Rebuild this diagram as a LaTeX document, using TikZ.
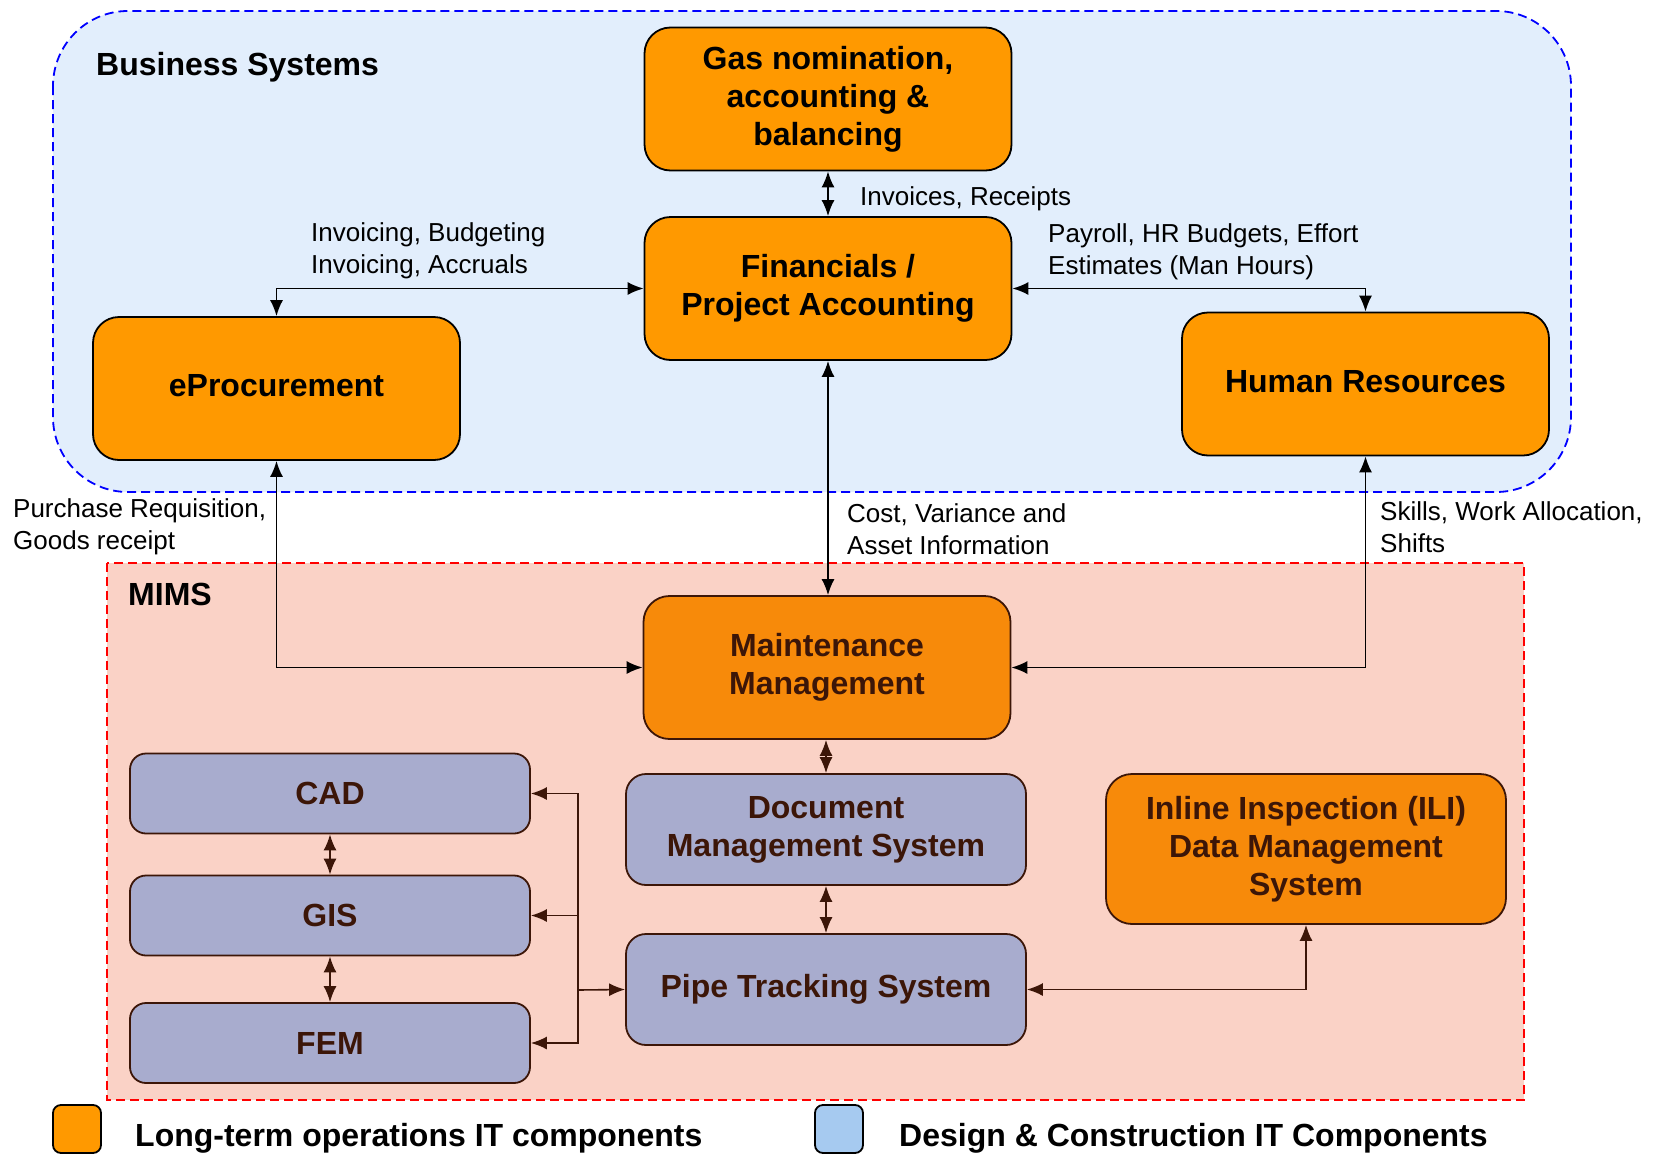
\documentclass[tikz,border=0pt]{standalone}
\usepackage{fontspec}
\setmainfont{Liberation Sans}
\usetikzlibrary{arrows.meta,positioning,calc}
\definecolor{bizOrange} {RGB}{255,153,  0}
\definecolor{mimsOrange}{RGB}{247,138, 10}
\definecolor{mimsBlue}  {RGB}{168,172,206}
\definecolor{dcBlue}    {RGB}{166,202,240}
\definecolor{bizBack}   {RGB}{226,238,252}
\definecolor{mimsBack}  {RGB}{250,210,198}
\definecolor{mimsInk}   {RGB}{ 60, 22,  8}

\begin{document}
\begin{tikzpicture}[x=1pt,y=-1pt,
        >={Latex[length=16pt,width=13pt]},
        box/.style={draw,line width=1.8pt,rounded corners=26pt,
                    fill=bizOrange,align=center,inner sep=0pt,
                    font=\fontsize{32}{38}\selectfont\bfseries,
                    minimum width=367pt,minimum height=143pt},
        mbox/.style={box,draw=mimsInk,text=mimsInk,fill=mimsOrange},
        dbox/.style={mbox,fill=mimsBlue,minimum width=400pt,
                     minimum height=111pt,rounded corners=20pt},
        sbox/.style={dbox,minimum height=80pt,rounded corners=16pt},
        lbl/.style={font=\fontsize{26}{32}\selectfont,align=left,
                    inner sep=0pt,anchor=west},
        head/.style={font=\fontsize{32}{38}\selectfont\bfseries,
                     inner sep=0pt,anchor=west},
        key/.style={draw,line width=1.8pt,rounded corners=8pt,
                    minimum size=48pt,inner sep=0pt},
        arr/.style={line width=1.6pt},
        marr/.style={line width=1.6pt,draw=mimsInk,
                     >={Latex[length=16pt,width=13pt,fill=mimsInk]}}]
        \useasboundingbox (0,0) rectangle (1655,1154);
        \draw[blue,dashed,dash pattern=on 9pt off 5pt,line width=1.8pt,
              fill=bizBack,rounded corners=75pt] (53,11) rectangle (1571,492);
        \draw[red,dashed,dash pattern=on 9pt off 5pt,line width=1.8pt,
              fill=mimsBack] (107,563) rectangle (1524,1100);
        \node[head] (bizhead) at (96,67) {Business Systems};
        \node[head] (mimshead) at (128,594) {MIMS};
        \node[box] (gas) at (828,99)
          {Gas nomination,\\accounting \&\\balancing};
        \node[box] (fin) at (828,288.5)
          {Financials /\\Project Accounting};
        \node[box] (eproc) at (276.5,388.5)
          {\raisebox{6pt}{eProcurement}};
        \node[box] (hr) at (1365.5,384)
          {\raisebox{6pt}{Human Resources}};
        \node[mbox] (maint) at (827,667.5)
          {Maintenance\\Management};
        \node[dbox] (doc) at (826,829.5)
          {Document\\Management System};
        \node[dbox] (pipe) at (826,989.5) {Pipe Tracking System};
        \node[sbox] (cad) at (330,793.5) {CAD};
        \node[sbox] (gis) at (330,915.5) {GIS};
        \node[sbox] (fem) at (330,1043) {FEM};
        \node[mbox,minimum width=400pt,minimum height=150pt] (ili)
          at (1306,849) {Inline Inspection (ILI)\\Data Management\\System};
        \node[lbl] (invrec) at (860,199) {Invoices, Receipts};
        \node[lbl] (invbud) at (311,250.5)
          {Invoicing, Budgeting\\Invoicing, Accruals};
        \node[lbl] (payroll) at (1048,251.5)
          {Payroll, HR Budgets, Effort\\Estimates (Man Hours)};
        \node[lbl] (purch) at (13,527)
          {Purchase Requisition,\\Goods receipt};
        \node[lbl] (cost) at (847,529)
          {Cost, Variance and\\Asset Information};
        \node[lbl] (skills) at (1380,527)
          {Skills, Work Allocation,\\Shifts};
        \coordinate (bus) at (578,990);
        \draw[arr,<->] (gas.south -| fin.north) -- (fin.north);
        \draw[arr,<->] (eproc.north) |- (fin.west);
        \draw[arr,<->] (fin.east) -| (hr.north);
        \draw[arr,<->] (fin.south) -- (fin.south |- maint.north);
        \draw[arr,<->] (eproc.south) |- (maint.west);
        \draw[arr,<->] (hr.south) |- (maint.east);
        \draw[marr,<->] (maint.south -| doc.north) -- (doc.north);
        \draw[marr,<->] (doc.south) -- (pipe.north);
        \draw[marr,<->] (cad.south) -- (gis.north);
        \draw[marr,<->] (gis.south) -- (fem.north);
        \draw[marr,->] (bus) -- (pipe.west);
        \draw[marr,->] (bus) |- (cad.east);
        \draw[marr,->] (bus) |- (gis.east);
        \draw[marr,->] (bus) |- (fem.east);
        \draw[marr,<->] (pipe.east) -| (ili.south);
        \node[key,fill=bizOrange] (keyops) at (77,1129) {};
        \node[key,fill=dcBlue] (keydc) at (839,1129) {};
        \node[head] (keyopstxt) at (135,1138)
          {Long-term operations IT components};
        \node[head] (keydctxt) at (899,1138)
          {Design \& Construction IT Components};
      \end{tikzpicture}
\end{document}
